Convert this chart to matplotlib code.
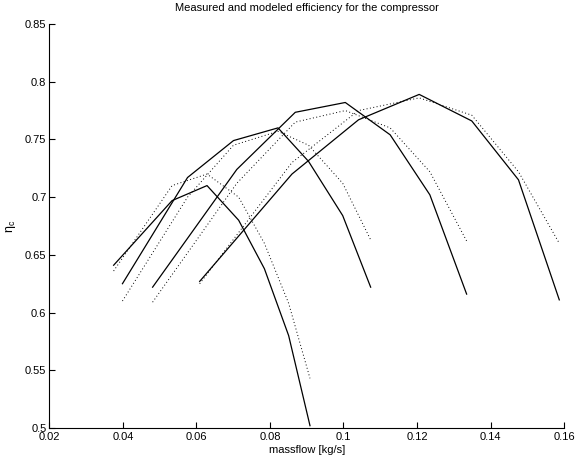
import matplotlib
matplotlib.use("Agg")
import matplotlib.pyplot as plt

plt.rcParams['font.family'] = ['Liberation Sans', 'DejaVu Sans']
plt.rcParams['mathtext.fontset'] = 'custom'
plt.rcParams['mathtext.rm'] = 'Liberation Sans'

# Measured (solid) speed lines
mA_x = [0.0375, 0.0534, 0.0629, 0.0715, 0.0785, 0.0851, 0.0909]
mA_y = [0.641, 0.697, 0.710, 0.680, 0.638, 0.580, 0.502]
mB_x = [0.0399, 0.0576, 0.0701, 0.0822, 0.0905, 0.0998, 0.1074]
mB_y = [0.625, 0.717, 0.749, 0.760, 0.731, 0.684, 0.622]
mC_x = [0.0481, 0.0710, 0.0869, 0.1005, 0.1127, 0.1235, 0.1335]
mC_y = [0.622, 0.724, 0.7735, 0.782, 0.754, 0.702, 0.616]
mD_x = [0.0609, 0.0860, 0.1041, 0.1206, 0.1349, 0.1476, 0.1587]
mD_y = [0.627, 0.720, 0.767, 0.789, 0.766, 0.715, 0.611]

# Modeled (dotted) values at the same massflows
eA_y = [0.636, 0.710, 0.720, 0.700, 0.660, 0.608, 0.543]
eB_y = [0.610, 0.700, 0.745, 0.757, 0.745, 0.712, 0.663]
eC_y = [0.609, 0.712, 0.765, 0.775, 0.760, 0.722, 0.662]
eD_y = [0.625, 0.730, 0.775, 0.786, 0.771, 0.722, 0.660]

xticks = [0.02, 0.04, 0.06, 0.08, 0.1, 0.12, 0.14, 0.16]
xticklabels = ['0.02', '0.04', '0.06', '0.08', '0.1', '0.12', '0.14', '0.16']
yticks = [0.5, 0.55, 0.6, 0.65, 0.7, 0.75, 0.8, 0.85]
yticklabels = ['0.5', '0.55', '0.6', '0.65', '0.7', '0.75', '0.8', '0.85']

fig = plt.figure(figsize=(5.75, 4.65), dpi=100)
ax = fig.add_axes([0.0857, 0.0796, 0.8953, 0.8688])

for xs, ys in [(mA_x, mA_y), (mB_x, mB_y), (mC_x, mC_y), (mD_x, mD_y)]:
    ax.plot(xs, ys, color='black', linestyle='-', linewidth=0.9)
for xs, ys in [(mA_x, eA_y), (mB_x, eB_y), (mC_x, eC_y), (mD_x, eD_y)]:
    ax.plot(xs, ys, color='black', linestyle=(0, (1, 2.5)), linewidth=0.7)

ax.set_xlim(0.02, 0.16)
ax.set_ylim(0.5, 0.85)
ax.set_xticks(xticks)
ax.set_xticklabels(xticklabels)
ax.set_yticks(yticks)
ax.set_yticklabels(yticklabels)
ax.tick_params(direction='in', length=4, width=0.8, labelsize=8, colors='black')
ax.tick_params(axis='x', pad=3)
ax.tick_params(axis='y', pad=2)
ax.spines['top'].set_visible(False)
ax.spines['right'].set_visible(False)
ax.spines['left'].set_linewidth(0.8)
ax.spines['bottom'].set_linewidth(0.8)

ax.set_xlabel('massflow [kg/s]', fontsize=8, labelpad=2)
ax.set_ylabel(r'$\mathrm{\eta}_\mathrm{c}$', fontsize=9, labelpad=5)
ax.set_title('Measured and modeled efficiency for the compressor', fontsize=8, pad=9)

fig.savefig('out.png', dpi=100)
